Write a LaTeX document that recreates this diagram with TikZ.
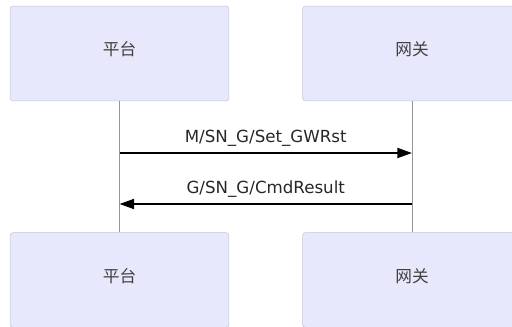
\documentclass[tikz,border=0pt]{standalone}
\usepackage{fontspec}
\setmainfont{DejaVu Sans}
\newfontfamily\cjk{Noto Sans CJK SC}
\usetikzlibrary{arrows.meta, positioning}
\definecolor{actorfill}{RGB}{232, 232, 252}
\definecolor{actorline}{RGB}{196, 196, 216}
\definecolor{lifeline}{RGB}{150, 150, 150}
\tikzset{
  actor/.style={
    rectangle, rounded corners=2pt,
    draw=actorline, fill=actorfill,
    minimum width=164pt, minimum height=71pt,
    font=\cjk\fontsize{12.5}{14}\selectfont, text=black!75,
    text height=11pt, text depth=8pt
  },
  life/.style={draw=lifeline, line width=0.5pt},
  msg/.style={-{Triangle[length=11pt, width=7.5pt]}, line width=1.4pt, black},
  msglabel/.style={font=\fontsize{12.5}{14}\selectfont, text=black!85, above=1pt}
}
\begin{document}
\begin{tikzpicture}[x=0.75pt, y=-0.75pt]
  \useasboundingbox (0,0) rectangle (512,326);
  \clip (0,0) rectangle (512,326);

  % actors, top and bottom
  \node[actor] (pt) at (119.5, 53.5) {平台};
  \node[actor] (gt) at (412, 53.5)   {网关};
  \node[actor] (pb) at (119.5, 280)  {平台};
  \node[actor] (gb) at (412, 280)    {网关};

  % lifelines
  \draw[life] (pt) -- (pb);
  \draw[life] (gt) -- (gb);

  % messages
  \coordinate (y1) at (0, 153);
  \coordinate (y2) at (0, 204);
  \draw[msg] (pt.south |- y1) -- node[msglabel] {M/SN\_G/Set\_GWRst} (gt.south |- y1);
  \draw[msg] (gt.south |- y2) -- node[msglabel] {G/SN\_G/CmdResult} (pt.south |- y2);
\end{tikzpicture}
\end{document}
